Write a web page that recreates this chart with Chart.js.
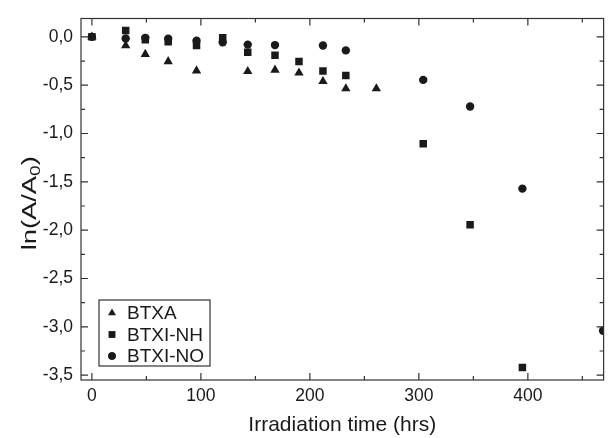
<!DOCTYPE html>
<html>
<head>
<meta charset="utf-8">
<script src="https://cdn.jsdelivr.net/npm/chart.js@4/dist/chart.umd.min.js"></script>
<style>
  html, body { margin: 0; padding: 0; background: #fff; }
  #wrap { width: 609px; height: 438px; }
</style>
</head>
<body>
<div id="wrap"><canvas id="chart"></canvas></div>
<script>
// irradiation time (hrs) and ln(A/A0)
const timeBTXA = [0, 31, 49, 70, 96, 143, 168, 190, 212, 233, 261];
const lnBTXA   = [0, -0.09, -0.18, -0.255, -0.35, -0.357, -0.343, -0.373, -0.46, -0.535, -0.535];

const timeNH = [0, 31, 49, 70, 96, 120, 143, 168, 190, 212, 233, 304, 347, 395];
const lnNH   = [0, 0.067, -0.03, -0.05, -0.09, -0.01, -0.16, -0.19, -0.255, -0.353, -0.40, -1.105, -1.945, -3.42];

const timeNO = [0, 31, 49, 70, 96, 120, 143, 168, 212, 233, 304, 347, 395, 469];
const lnNO   = [0, -0.017, -0.01, -0.02, -0.04, -0.055, -0.08, -0.085, -0.09, -0.14, -0.445, -0.72, -1.57, -3.04];

const xTicks = [0, 50, 100, 150, 200, 250, 300, 350, 400, 450];
const yTicks = [0, -0.25, -0.5, -0.75, -1, -1.25, -1.5, -1.75, -2, -2.25, -2.5, -2.75, -3, -3.25, -3.5];

const ink = '#1a1a1a';
const frame = '#333';
const font = 'Arial, "Liberation Sans", sans-serif';

function pts(xs, ys) { return xs.map((x, i) => ({ x: x, y: ys[i] })); }

const isMajorX = v => v % 100 === 0;
const isMajorY = v => Math.abs(v * 2 - Math.round(v * 2)) < 1e-9;

// inward tick marks on all four sides plus the box
const frameTicks = {
    id: 'frameTicks',
    afterDraw(chart) {
        const ctx = chart.ctx, a = chart.chartArea;
        const xs = chart.scales.x, ys = chart.scales.y;
        ctx.save();
        ctx.strokeStyle = frame;
        ctx.lineWidth = 1.2;
        ctx.strokeRect(a.left, a.top, a.right - a.left, a.bottom - a.top);
        ctx.beginPath();
        xTicks.forEach(v => {
            const p = xs.getPixelForValue(v);
            const len = isMajorX(v) ? 7 : 4;
            ctx.moveTo(p, a.bottom); ctx.lineTo(p, a.bottom - len);
            ctx.moveTo(p, a.top); ctx.lineTo(p, a.top + len);
        });
        yTicks.forEach(v => {
            const p = ys.getPixelForValue(v);
            const len = isMajorY(v) ? 7 : 4;
            ctx.moveTo(a.left, p); ctx.lineTo(a.left + len, p);
            ctx.moveTo(a.right, p); ctx.lineTo(a.right - len, p);
        });
        ctx.stroke();
        ctx.restore();
    }
};

// y title with a real subscript 0
const yTitle = {
    id: 'yTitle',
    afterDraw(chart) {
        const ctx = chart.ctx, a = chart.chartArea;
        const big = '20px ' + font, small = '14px ' + font;
        ctx.save();
        ctx.fillStyle = ink;
        ctx.textBaseline = 'alphabetic';
        ctx.font = big;
        const w1 = ctx.measureText('ln(A/A').width, w3 = ctx.measureText(')').width;
        ctx.font = small;
        const w2 = ctx.measureText('0').width;
        const total = w1 + w2 + w3;
        ctx.translate(29, (a.top + a.bottom) / 2 + 4);
        ctx.rotate(-Math.PI / 2);
        ctx.scale(94 / total, 1);
        let x = -total / 2;
        ctx.font = big;
        ctx.fillText('ln(A/A', x, 7);
        x += w1;
        ctx.font = small;
        ctx.fillText('0', x, 11);
        x += w2;
        ctx.font = big;
        ctx.fillText(')', x, 7);
        ctx.restore();
    }
};

// boxed legend in the lower left of the plot
const boxLegend = {
    id: 'boxLegend',
    afterDraw(chart) {
        const ctx = chart.ctx, a = chart.chartArea;
        const bx = a.left + 18, by = a.bottom - 80, bw = 111, bh = 66;
        ctx.save();
        ctx.fillStyle = '#fff';
        ctx.fillRect(bx, by, bw, bh);
        ctx.strokeStyle = frame;
        ctx.lineWidth = 1.2;
        ctx.strokeRect(bx, by, bw, bh);
        ctx.font = '19px ' + font;
        ctx.textBaseline = 'middle';
        chart.data.datasets.forEach((ds, i) => {
            const cy = by + 13 + i * 21.5;
            Chart.helpers.drawPoint(ctx, {
                pointStyle: ds.pointStyle, radius: ds.pointStyle === 'circle' ? 3.8 : 4.6,
                borderWidth: 0
            }, bx + 13, cy);
            ctx.fillStyle = ink;
            ctx.fill();
            ctx.fillText(ds.label, bx + 28, cy + 1);
        });
        ctx.restore();
    }
};

new Chart(document.getElementById('chart'), {
    type: 'scatter',
    data: {
        datasets: [
            { label: 'BTXA', data: pts(timeBTXA, lnBTXA), pointStyle: 'triangle', pointRadius: 5.4,
              backgroundColor: ink, borderColor: ink, borderWidth: 0 },
            { label: 'BTXI-NH', data: pts(timeNH, lnNH), pointStyle: 'rect', pointRadius: 5.3,
              backgroundColor: ink, borderColor: ink, borderWidth: 0 },
            { label: 'BTXI-NO', data: pts(timeNO, lnNO), pointStyle: 'circle', pointRadius: 4.2,
              backgroundColor: ink, borderColor: ink, borderWidth: 0 }
        ]
    },
    options: {
        responsive: true,
        maintainAspectRatio: false,
        animation: false,
        events: [],
        layout: { padding: { top: 12, right: 1, left: 0, bottom: 0 } },
        plugins: {
            legend: { display: false },
            tooltip: { enabled: false }
        },
        scales: {
            x: {
                type: 'linear',
                min: -10,
                max: 469.5,
                grid: { display: false, drawTicks: false },
                border: { display: false },
                afterBuildTicks: s => { s.ticks = xTicks.map(v => ({ value: v })); },
                afterFit: s => { s.height = 58; },
                ticks: {
                    autoSkip: false,
                    maxRotation: 0,
                    padding: 6,
                    color: ink,
                    font: { family: font, size: 17.5 },
                    callback: v => isMajorX(v) ? String(v) : ''
                },
                title: {
                    display: true,
                    text: 'Irradiation time (hrs)',
                    color: ink,
                    font: { family: font, size: 21 },
                    padding: { top: 2, bottom: 0 }
                }
            },
            y: {
                type: 'linear',
                min: -3.55,
                max: 0.19,
                grid: { display: false, drawTicks: false },
                border: { display: false },
                afterBuildTicks: s => { s.ticks = yTicks.map(v => ({ value: v })); },
                afterFit: s => { s.width = 81; },
                ticks: {
                    autoSkip: false,
                    padding: 8,
                    color: ink,
                    font: { family: font, size: 17.5 },
                    callback: v => isMajorY(v) ? v.toFixed(1).replace('.', ',') : ''
                },
                title: { display: false }
            }
        }
    },
    plugins: [frameTicks, yTitle, boxLegend]
});
</script>
</body>
</html>
